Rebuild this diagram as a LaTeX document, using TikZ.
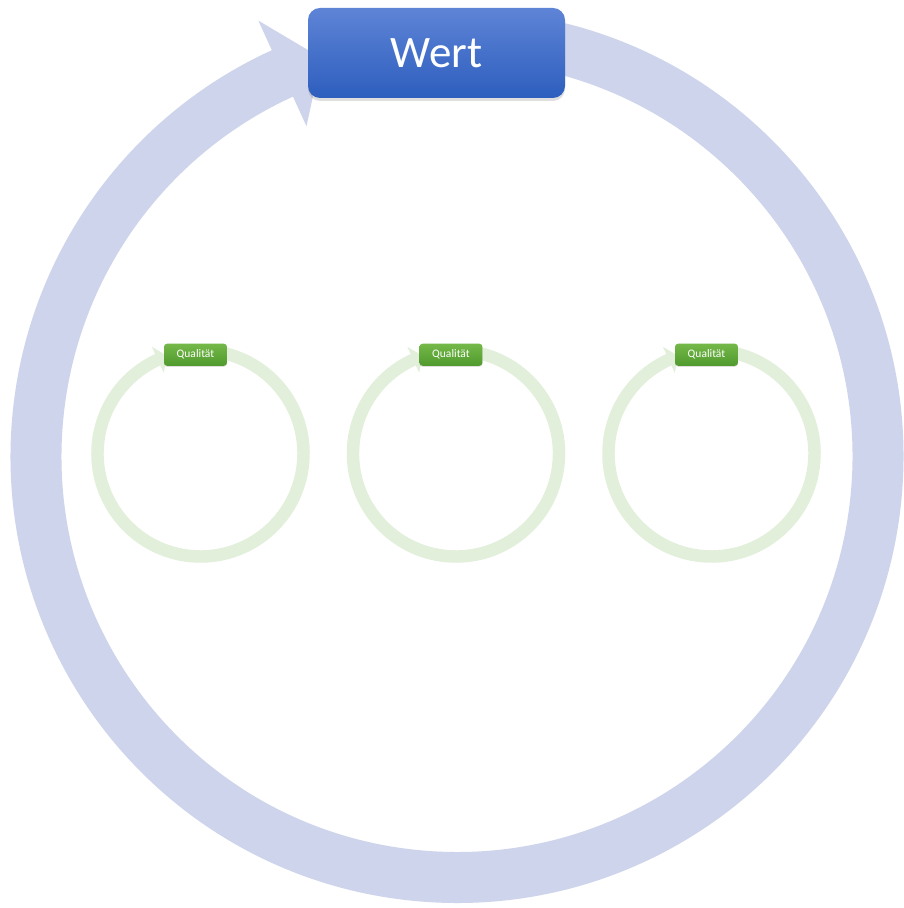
\documentclass[tikz,border=0pt]{standalone}
\usepackage{fontspec}
\setmainfont{Carlito}
\usetikzlibrary{calc,shadows}
\definecolor{ringblue}{RGB}{206,212,235}
\definecolor{ringgreen}{RGB}{226,239,218}
\definecolor{wtop}{RGB}{94,132,214}
\definecolor{wbot}{RGB}{45,94,190}
\definecolor{gtop}{RGB}{116,184,72}
\definecolor{gbot}{RGB}{80,154,46}
\tikzset{
  wertbox/.style={rounded corners=12pt, top color=wtop, bottom color=wbot, draw=none,
    text=white, font=\fontsize{45}{52}\selectfont, inner sep=0pt,
    drop shadow={opacity=0.25, shadow xshift=0pt, shadow yshift=-3pt}},
  qualbox/.style={rounded corners=3pt, top color=gtop, bottom color=gbot, draw=none,
    text=white, font=\fontsize{11.5}{13}\selectfont, inner sep=0pt,
    drop shadow={opacity=0.25, shadow xshift=0pt, shadow yshift=-1pt}}
}
% #1 name, #2 cx, #3 cy, #4 scale, #5 text, #6 ring colour, #7 box style
\newcommand{\cycleunit}[7]{%
  \coordinate (#1c) at (#2,#3);
  \pgfmathsetmacro\rr{421*#4}%
  \pgfmathsetmacro\ro{479*#4}%
  \pgfmathsetmacro\ri{363*#4}%
  \pgfmathsetmacro\lw{51*#4}%
  \draw[line width=\lw pt, color=#6] ($(#1c)+(85:\rr pt)$) arc[start angle=85, end angle=-245.8, radius=\rr pt];
  \fill[#6] ($(#1c)+(114.5:\ro pt)$) -- ($(#1c)+(108.8:\rr pt)$) -- ($(#1c)+(114.5:\ri pt)$) -- cycle;
  \node[#7, minimum width={257*#4 pt}, minimum height={90*#4 pt}] (#1b) at ($(#1c)+({-20.5*#4},{403.5*#4})$) {#5};
}
\begin{document}
\begin{tikzpicture}[x=1pt,y=1pt]
\useasboundingbox (0,0) rectangle (904,908);
\fill[white] (0,0) rectangle (904,908);
\cycleunit{big}{457}{451.5}{1}{Wert}{ringblue}{wertbox}
\cycleunit{qa}{200.5}{454.5}{0.2447}{Qualität}{ringgreen}{qualbox}
\cycleunit{qb}{456}{454.5}{0.2447}{Qualität}{ringgreen}{qualbox}
\cycleunit{qc}{711.5}{454.5}{0.2447}{Qualität}{ringgreen}{qualbox}
\end{tikzpicture}
\end{document}
